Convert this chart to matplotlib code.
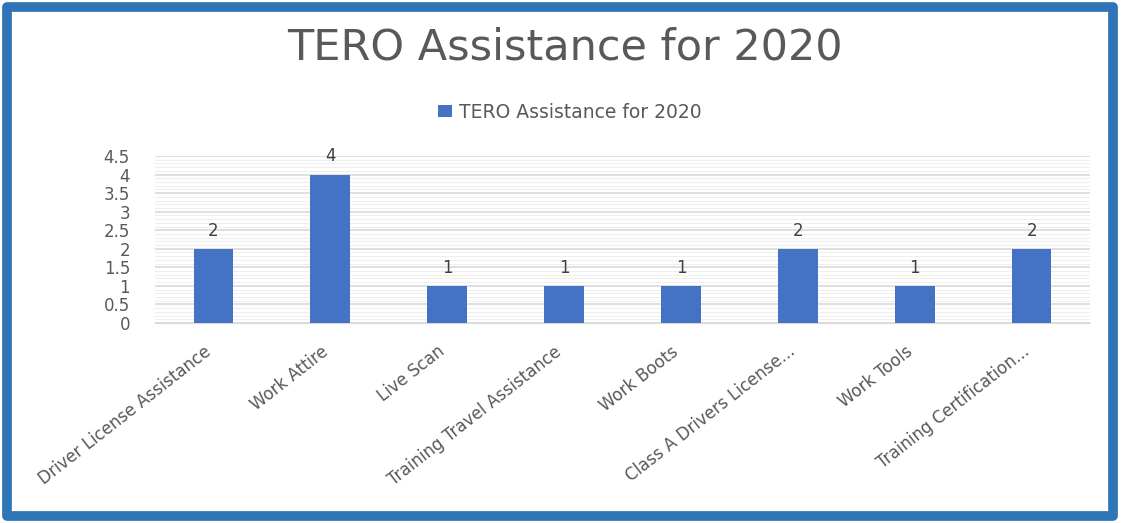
import matplotlib
matplotlib.use("Agg")
import matplotlib.pyplot as plt
import matplotlib.transforms as mtransforms
from matplotlib.patches import Rectangle
from matplotlib.ticker import MultipleLocator

categories = ["Driver License Assistance", "Work Attire", "Live Scan",
              "Training Travel Assistance", "Work Boots",
              "Class A Drivers License...", "Work Tools",
              "Training Certification..."]
values = [2, 4, 1, 1, 1, 2, 1, 2]
title = "TERO Assistance for 2020"
series_name = "TERO Assistance for 2020"

plt.rcParams['font.family'] = ['DejaVu Sans']
fig = plt.figure(figsize=(11.21, 5.23), dpi=100)
W, H = 1121, 523
ax = fig.add_axes([155 / W, 1 - 323 / H, (1090 - 155) / W, (323 - 156) / H])

bar_color = "#4472C4"
text_color = "#595959"
x = list(range(len(categories)))
bars = ax.bar(x, values, width=0.34, color=bar_color, label=series_name, zorder=3)
for xi, v in zip(x, values):
    ax.text(xi, v + 0.25, str(v), ha="center", va="bottom", fontsize=12, color="#404040")

ax.set_xlim(-0.5, len(categories) - 0.5)
ax.set_ylim(0, 4.5)
ax.yaxis.set_major_locator(MultipleLocator(0.5))
ax.yaxis.set_minor_locator(MultipleLocator(0.1))
ax.set_yticks([0, 0.5, 1, 1.5, 2, 2.5, 3, 3.5, 4, 4.5])
ax.set_yticklabels(["0", "0.5", "1", "1.5", "2", "2.5", "3", "3.5", "4", "4.5"])
ax.grid(axis="y", which="major", color="#D9D9D9", linewidth=1.2, zorder=0)
ax.grid(axis="y", which="minor", color="#EFEFEF", linewidth=0.8, zorder=0)
ax.tick_params(axis="y", which="both", length=0, labelsize=12, labelcolor=text_color, pad=18)
ax.set_xticks(x)
ax.set_xticklabels(categories, rotation=38, ha="right", rotation_mode="anchor",
                   fontsize=12, color=text_color)
ax.tick_params(axis="x", length=0, pad=14)
offset = mtransforms.ScaledTranslation(-10 / 100, 0, fig.dpi_scale_trans)
for lbl in ax.get_xticklabels():
    lbl.set_transform(lbl.get_transform() + offset)
for s in ax.spines.values():
    s.set_visible(False)
ax.spines["bottom"].set_visible(True)
ax.spines["bottom"].set_color("#D9D9D9")

fig.text(565 / W, 1 - 48 / H, title, ha="center", va="center", fontsize=31,
         color=text_color)
ax.legend(loc="center", bbox_to_anchor=(570 / W, 1 - 112 / H),
          bbox_transform=fig.transFigure, frameon=False, fontsize=13.5,
          labelcolor=text_color, handlelength=0.75, handleheight=0.65,
          handletextpad=0.4)

fig.patches.append(Rectangle((7 / W, 7 / H), (1113 - 7) / W, (516 - 7) / H,
                             transform=fig.transFigure, fill=False,
                             edgecolor="#2E75B6", linewidth=7, joinstyle="round"))
fig.savefig("out.png", dpi=100)
